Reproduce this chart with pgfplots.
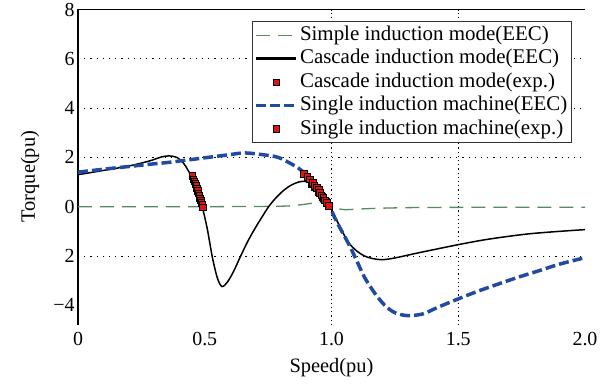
\documentclass[border=0pt]{standalone}
\usepackage{pgfplots}
\pgfplotsset{compat=1.18}
\usepackage{fontspec}
\setmainfont{Liberation Serif}
\definecolor{blueC}{RGB}{33,75,160}
\definecolor{greenC}{RGB}{85,140,95}
\definecolor{redC}{RGB}{220,20,20}
\pgfplotsset{
  lineleg/.style={legend image code/.code={\draw[##1] (0bp,0bp) -- (40bp,0bp);}},
  thickleg/.style={legend image code/.code={\draw[##1, line width=3bp] (0bp,0bp) -- (40bp,0bp);}},
  markleg/.style={legend image code/.code={\draw[##1] plot coordinates {(20bp,0bp)};}},
}
\begin{document}
\begin{tikzpicture}
\begin{axis}[name=ax, at={(0,0)}, anchor=south west,
  scale only axis, width=507bp, height=315.5bp,
  xmin=0, xmax=2, ymin=-4.8, ymax=8,
  clip=false,
  axis line style={draw=none},
  xtick={0,0.5,1,1.5,2}, xticklabels={0,0.5,1.0,1.5,2.0},
  ytick={-4,-2,0,2,4,6,8}, yticklabels={−4,2,0,2,4,6,8},
  major tick length=0pt,
  tick label style={font=\fontsize{20}{22}\selectfont},
  xticklabel style={yshift=-4bp},
  /pgf/number format/assume math mode=true,
  xlabel={Speed(pu)}, ylabel={Torque(pu)},
  label style={font=\fontsize{20.5}{22}\selectfont},
  xlabel style={at={(axis description cs:0.5,0)}, anchor=center, yshift=-43bp},
  ylabel style={at={(axis description cs:0,0.47)}, anchor=center, yshift=48bp},
  legend style={at={(0.974,0.9636)}, anchor=north east, draw=black!80, line width=1bp,
    fill=white, font=\fontsize{21}{24}\selectfont, inner sep=2bp, row sep=0bp,
    cells={anchor=west}, nodes={text height=15bp, text depth=4.5bp, inner ysep=2bp, inner xsep=2bp}},
]
% grid
\draw[black, line width=0.9bp, dash pattern=on 1.2bp off 5bp] (axis cs:0,6) -- (axis cs:2,6);
\draw[black, line width=0.9bp, dash pattern=on 1.2bp off 5bp] (axis cs:0,4) -- (axis cs:2,4);
\draw[black, line width=0.9bp, dash pattern=on 1.2bp off 5bp] (axis cs:0,2) -- (axis cs:2,2);
\draw[black, line width=0.9bp, dash pattern=on 1.2bp off 5bp] (axis cs:0,-2) -- (axis cs:2,-2);
\draw[black, line width=0.9bp, dash pattern=on 1.2bp off 3bp] (axis cs:1,-4.8) -- (axis cs:1,8);
\draw[black, line width=0.9bp, dash pattern=on 1.2bp off 3bp] (axis cs:1.5,-4.8) -- (axis cs:1.5,8);
\draw[black, line width=1.1bp] (rel axis cs:0,0) -- (rel axis cs:0,1) -- (rel axis cs:1,1);

\addplot[greenC, line width=1.3bp, dash pattern=on 14bp off 8bp, smooth, lineleg]
  coordinates {(0,0) (0.5,0) (0.8,0.02) (0.88,0.08) (0.93,0.15) (0.97,0.2) (1.0,0.15)
  (1.02,-0.05) (1.05,-0.12) (1.1,-0.1) (1.2,-0.06) (1.4,-0.03) (2.0,-0.02)};
\addlegendentry{Simple induction mode(EEC)}

\addplot[black, line width=1.5bp, smooth, thickleg]
  coordinates {(0,1.3) (0.1,1.47) (0.2,1.65) (0.28,1.85) (0.33,2.02) (0.36,2.06) (0.39,2.0)
  (0.415,1.78) (0.43,1.55) (0.444,1.29) (0.46,0.95) (0.475,0.53) (0.49,0.0) (0.51,-0.9)
  (0.53,-2.05) (0.55,-2.9) (0.568,-3.24) (0.59,-3.05) (0.615,-2.6) (0.64,-2.04) (0.67,-1.4)
  (0.70,-0.85) (0.73,-0.35) (0.752,0.0) (0.78,0.35) (0.81,0.65) (0.84,0.87) (0.87,1.0)
  (0.895,1.03) (0.915,0.95) (0.94,0.72) (0.965,0.4) (0.99,0.05) (1.0,-0.1) (1.03,-0.75)
  (1.067,-1.45) (1.1,-1.8) (1.13,-2.0) (1.16,-2.1) (1.2,-2.15) (1.25,-2.08) (1.33,-1.9)
  (1.4,-1.75) (1.5,-1.54) (1.6,-1.35) (1.7,-1.2) (1.79,-1.09) (1.9,-1.0) (2.0,-0.93)};
\addlegendentry{Cascade induction mode(EEC)}

\addplot[only marks, mark=square*, mark size=3.2bp, mark options={fill=redC, draw=black, line width=0.7bp}, markleg]
  coordinates {(0.452,1.25) (0.456,1.12) (0.459,1.03) (0.463,0.93) (0.466,0.84) (0.469,0.74) (0.472,0.64) (0.475,0.53)
  (0.478,0.44) (0.481,0.34) (0.484,0.25) (0.487,0.16) (0.490,0.07) (0.493,-0.02)
  (0.92,0.92) (0.935,0.78) (0.95,0.6) (0.965,0.4) (0.98,0.2)};
\addlegendentry{Cascade induction mode(exp.)}

\addplot[blueC, line width=3.5bp, dash pattern=on 10bp off 4bp, smooth, lineleg]
  coordinates {(0,1.4) (0.1,1.52) (0.2,1.63) (0.3,1.74) (0.36,1.8) (0.49,1.97) (0.59,2.1)
  (0.66,2.18) (0.75,2.08) (0.79,2.0) (0.83,1.8) (0.87,1.56) (0.90,1.29) (0.93,0.9)
  (0.96,0.5) (0.99,0.05) (1.02,-0.6) (1.067,-1.5) (1.1,-2.2) (1.13,-2.86) (1.17,-3.5)
  (1.21,-4.0) (1.25,-4.3) (1.30,-4.42) (1.36,-4.35) (1.42,-4.08) (1.5,-3.74) (1.58,-3.42)
  (1.66,-3.13) (1.74,-2.85) (1.815,-2.61) (1.9,-2.33) (2.0,-2.07)};
\addlegendentry{Single induction machine(EEC)}

\addplot[only marks, mark=square*, mark size=3.4bp, mark options={fill=redC, draw=black, line width=0.7bp}, markleg]
  coordinates {(0.89,1.33) (0.905,1.2) (0.916,1.11) (0.925,0.97) (0.932,0.85) (0.941,0.76) (0.949,0.68) (0.955,0.57) (0.96,0.46) (0.968,0.36) (0.975,0.26) (0.982,0.14) (0.988,0.02)};
\addlegendentry{Single induction machine(exp.)}
\end{axis}
\pgfresetboundingbox
\path[use as bounding box] ([xshift=-78bp,yshift=-60bp]ax.south west) rectangle ([xshift=23bp,yshift=9.5bp]ax.north east);
\end{tikzpicture}
\end{document}
